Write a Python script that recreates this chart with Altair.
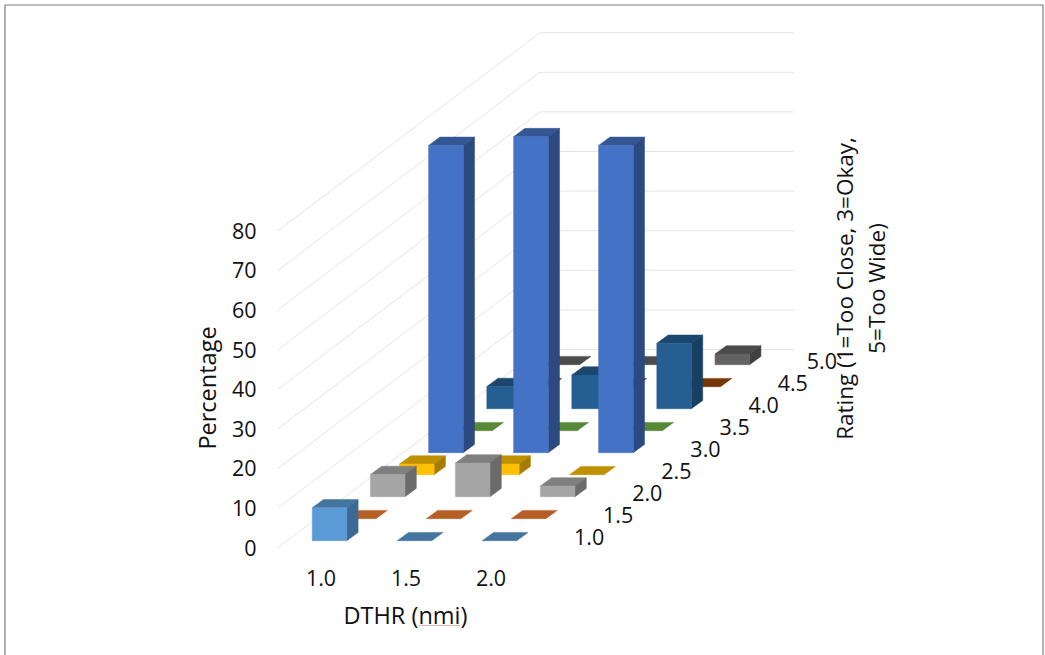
import altair as alt
import pandas as pd

# Survey results: share of responses per DTHR setting and rating
dthr_values = [1.0, 1.5, 2.0]
rating_values = [1.0, 1.5, 2.0, 2.5, 3.0, 3.5, 4.0, 4.5, 5.0]
pct_dthr_10 = [8.3, 0, 5.6, 2.7, 77.6, 0, 5.6, 0, 0]
pct_dthr_15 = [0, 0, 8.5, 2.7, 79.8, 0, 8.5, 0, 0]
pct_dthr_20 = [0, 0, 2.7, 0, 77.6, 0, 16.5, 0, 2.7]
percent_ticks = [0, 10, 20, 30, 40, 50, 60, 70, 80]

# Face shades per rating series: front, side, top
front_colors = ["#5B9BD5", "#ED7D31", "#A5A5A5", "#FFC000", "#4472C4", "#70AD47", "#255E91", "#9E480E", "#636363"]
side_colors = ["#3A6A94", "#A2531F", "#6B6B6B", "#A67C00", "#2C4A80", "#48732D", "#173F60", "#672F09", "#404040"]
top_colors = ["#44759F", "#B55F26", "#7F7F7F", "#BF9000", "#335694", "#568836", "#1C476D", "#773608", "#4B4B4B"]

# Oblique projection, in axis units per rating slot
PX_PER_DTHR = 170.0
PX_PER_PCT = 3.96
PLOT_W, PLOT_H = 517, 514
X_MIN = 0.75
SLOT_DX = 29.1 / PX_PER_DTHR
SLOT_DY = 22.0 / PX_PER_PCT
BAR_W = 34.6 / PX_PER_DTHR
BAR_DX = 11.3 / PX_PER_DTHR
BAR_DY = 8.3 / PX_PER_PCT
SLOT_INSET = 0.31
WALL_W = 254 / PX_PER_DTHR


def project(dthr, slot, height):
    return dthr + slot * SLOT_DX, height + slot * SLOT_DY


rows = []
face_id = 0


def add_face(corners, color):
    global face_id
    for v, (px, py) in enumerate(corners):
        rows.append({"face": face_id, "v": v, "px": px, "py": py, "color": color})
    face_id += 1


series = [pct_dthr_10, pct_dthr_15, pct_dthr_20]
for i in range(len(rating_values) - 1, -1, -1):
    for j, d in enumerate(dthr_values):
        h = series[j][i]
        x0, y0 = project(d - BAR_W / 2, i + SLOT_INSET, 0)
        x1 = x0 + BAR_W
        add_face([(x0, y0 + h), (x1, y0 + h), (x1 + BAR_DX, y0 + h + BAR_DY), (x0 + BAR_DX, y0 + h + BAR_DY)],
                 top_colors[i])
        if h > 0:
            add_face([(x1, y0), (x1 + BAR_DX, y0 + BAR_DY), (x1 + BAR_DX, y0 + h + BAR_DY), (x1, y0 + h)],
                     side_colors[i])
            add_face([(x0, y0), (x1, y0), (x1, y0 + h), (x0, y0 + h)], front_colors[i])
faces = pd.DataFrame(rows)

grid_rows = []
for k in percent_ticks:
    bx, by = project(X_MIN, 9, k)
    grid_rows += [
        {"k": k, "v": 0, "px": X_MIN, "py": k},
        {"k": k, "v": 1, "px": bx, "py": by},
        {"k": k, "v": 2, "px": bx + WALL_W, "py": by},
    ]
grid = pd.DataFrame(grid_rows)

# Rating labels follow the right floor edge
rating_labels = pd.DataFrame([
    {
        "label": f"{r:.1f}",
        "px": project(X_MIN + 1.5 + 39 / PX_PER_DTHR, i + 0.5, 0)[0],
        "py": project(X_MIN, i + 0.5, 0)[1],
    }
    for i, r in enumerate(rating_values)
])

FONT = "Open Sans"
TICK_SIZE = 21.5
TITLE_SIZE = 23.5
SIDE_TITLE_SIZE = 22.5
INK = "#111111"

x_scale = alt.Scale(domain=[X_MIN, X_MIN + PLOT_W / PX_PER_DTHR], nice=False, zero=False)
y_scale = alt.Scale(domain=[0, PLOT_H / PX_PER_PCT], nice=False, zero=False)

x_axis = alt.Axis(
    values=dthr_values, format=".1f", title="DTHR (nmi)", domain=False, ticks=False, grid=False,
    labelPadding=21, labelFont=FONT, labelFontSize=TICK_SIZE, labelColor=INK, labelFlush=False,
    titleFont=FONT, titleFontSize=TITLE_SIZE, titleFontWeight="normal", titleColor=INK,
    titleX=127, titleY=69, titleAlign="center", titleBaseline="middle",
)
y_axis = alt.Axis(
    values=percent_ticks, title="Percentage", domain=False, ticks=False, grid=False,
    labelPadding=22, labelOffset=1.5, labelFont=FONT, labelFontSize=TICK_SIZE, labelColor=INK,
    titleFont=FONT, titleFontSize=TITLE_SIZE, titleFontWeight="normal", titleColor=INK,
    titleX=-70, titleY=354, titleAlign="center", titleBaseline="middle", titleAngle=270,
)

gridlines = alt.Chart(grid).mark_line(color="#E4E4E4", strokeWidth=1).encode(
    x=alt.X("px:Q", scale=x_scale, axis=x_axis),
    y=alt.Y("py:Q", scale=y_scale, axis=y_axis),
    detail="k:N",
    order="v:Q",
)

bars = alt.Chart(faces).mark_line(interpolate="linear-closed", strokeWidth=0.5).encode(
    x=alt.X("px:Q", scale=x_scale),
    y=alt.Y("py:Q", scale=y_scale),
    detail="face:N",
    order="v:Q",
    fill=alt.Fill("color:N", scale=None),
    stroke=alt.Stroke("color:N", scale=None),
)

rating_text = alt.Chart(rating_labels).mark_text(
    font=FONT, fontSize=TICK_SIZE, color=INK, align="center", baseline="middle", dx=2.5, dy=2
).encode(
    x=alt.X("px:Q", scale=x_scale),
    y=alt.Y("py:Q", scale=y_scale),
    text="label:N",
)

rating_title = alt.Chart(pd.DataFrame({"t": ["Rating (1=Too Close, 3=Okay,\n5=Too Wide)"]})).mark_text(
    font=FONT, fontSize=SIDE_TITLE_SIZE, color=INK, align="center", baseline="middle",
    angle=270, lineBreak="\n", lineHeight=32,
).encode(x=alt.value(568), y=alt.value(255), text="t:N")

frame = alt.Chart(pd.DataFrame({"f": [0]})).mark_rect(
    fillOpacity=0, stroke="#7F7F7F", strokeWidth=1.2
).encode(x=alt.value(-273), x2=alt.value(765), y=alt.value(-28.5), y2=alt.value(700))

squiggle = alt.Chart(pd.DataFrame({"f": [0]})).mark_rule(color="#E8B4AE", strokeWidth=1).encode(
    x=alt.value(140), x2=alt.value(182), y=alt.value(592)
)

chart = alt.layer(frame, gridlines, bars, rating_text, rating_title, squiggle).properties(
    width=PLOT_W,
    height=PLOT_H,
    padding={"left": 278, "top": 33.5, "right": 250, "bottom": 107.5},
    autosize=alt.AutoSizeParams(type="none"),
    background="white",
).configure_view(stroke=None)

chart.save("out.html", embed_options={"renderer": "svg", "actions": False})
